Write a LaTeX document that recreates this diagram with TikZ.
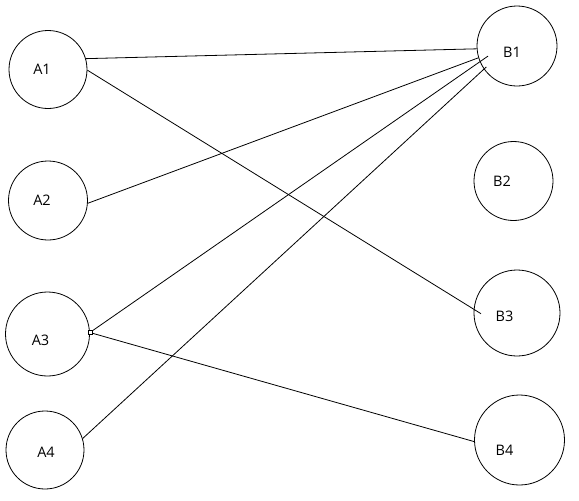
\documentclass[tikz,border=0pt]{standalone}
\usepackage{fontspec}
\setmainfont{Open Sans}
\usetikzlibrary{calc}

\tikzset{
  vertex/.style={draw, circle, inner sep=0pt, minimum size=#1, line width=0.8pt},
  vlabel/.style={font=\fontsize{14.5}{16}\selectfont, text=black},
  edge/.style={line width=0.8pt},
  handle/.style={draw, fill=white, rectangle, inner sep=0pt, minimum size=4pt, line width=0.6pt}
}

\begin{document}
\begin{tikzpicture}[x=1pt,y=-1pt]
		
		\useasboundingbox (0,0) rectangle (579,501);
		
		% Circles: name/x/y/diameter/label shift
		\foreach \nm/\x/\y/\d/\dx/\dy in {A1/48/69.5/78/-6/0, A2/48/200.5/79/-6/0,
			A3/47.5/334/84/-7/-6, A4/45/450/78/1/-2,
			B1/517/46/80/-5/-6.5, B2/513.5/181/79/-11.5/0,
			B3/517/313/86/-12.5/-3.7, B4/519.5/440/90/-15/-10.5} {
			\node[vertex=\d pt, label={[vlabel, xshift=\dx pt, yshift=\dy pt]center:\nm}] (\nm) at (\x,\y) {};
		}
		
		% Connections
		\coordinate (tab) at (A3.2);
		\draw[edge] (A1.16) -- (B1.184);
		\draw[edge, shorten >=-8.5pt] (A1.-1) -- (B3.175);
		\draw[edge] (A2.-4) -- (B1.197);
		\draw[edge, shorten >=-10pt] (tab) -- (B1.203);
		\draw[edge, shorten >=-3.3pt] (A4.17) -- (B1.215);
		\draw[edge] (tab) -- (B4.182);
		
		\node[handle] (tabbox) at (tab) {};
		
	\end{tikzpicture}
\end{document}
